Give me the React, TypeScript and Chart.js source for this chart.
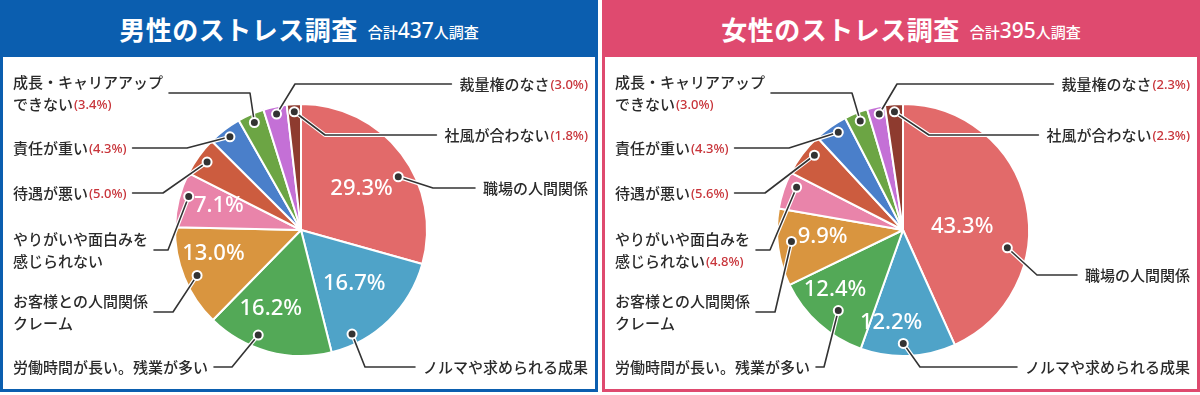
import React, { useEffect, useRef } from "react";
import { Chart, registerables } from "chart.js";

Chart.register(...registerables);

// ---------- data ----------
const categories = [
  "職場の人間関係",
  "ノルマや求められる成果",
  "労働時間が長い。残業が多い",
  "お客様との人間関係クレーム",
  "やりがいや面白みを感じられない",
  "待遇が悪い",
  "責任が重い",
  "成長・キャリアアップできない",
  "裁量権のなさ",
  "社風が合わない",
];
const labelLines = [
  ["職場の人間関係"],
  ["ノルマや求められる成果"],
  ["労働時間が長い。残業が多い"],
  ["お客様との人間関係", "クレーム"],
  ["やりがいや面白みを", "感じられない"],
  ["待遇が悪い"],
  ["責任が重い"],
  ["成長・キャリアアップ", "できない"],
  ["裁量権のなさ"],
  ["社風が合わない"],
];
const maleValues = [29.3, 16.7, 16.2, 13.0, 7.1, 5.0, 4.3, 3.4, 3.0, 1.8];
const femaleValues = [43.3, 12.2, 12.4, 9.9, 4.8, 5.6, 4.3, 3.0, 2.3, 2.3];
const maleTotal = 437;
const femaleTotal = 395;
const sliceColors = [
  "#E26A6A",
  "#4FA3C8",
  "#53A957",
  "#D9953F",
  "#E984AA",
  "#CC5C3F",
  "#4A7FCA",
  "#6CA544",
  "#C470D6",
  "#8E3B2F",
];
const INSIDE_MIN = 7;

// ---------- layout (panel coords) ----------
type Call = { side: "L" | "R"; y: number; ex: number; f: number; r: number };
const maleLayout: Call[] = [
  { side: "R", y: 188, ex: 433, f: 0.58, r: 0.88 },
  { side: "R", y: 367, ex: 365, f: 0.8, r: 0.92 },
  { side: "L", y: 367, ex: 232, f: 0.62, r: 0.9 },
  { side: "L", y: 312, ex: 173, f: 0.47, r: 0.9 },
  { side: "L", y: 250, ex: 168, f: 0.6, r: 0.93 },
  { side: "L", y: 193, ex: 163, f: 0.5, r: 0.92 },
  { side: "L", y: 148, ex: 187, f: 0.5, r: 0.93 },
  { side: "L", y: 93, ex: 250, f: 0.5, r: 0.93 },
  { side: "R", y: 84, ex: 295, f: 0.5, r: 0.94 },
  { side: "R", y: 135, ex: 325, f: 0.5, r: 0.94 },
];
const femaleLayout: Call[] = [
  { side: "R", y: 275, ex: 435, f: 0.64, r: 0.84 },
  { side: "R", y: 367, ex: 318, f: 0.55, r: 0.9 },
  { side: "L", y: 367, ex: 222, f: 0.43, r: 0.82 },
  { side: "L", y: 312, ex: 173, f: 0.56, r: 0.89 },
  { side: "L", y: 250, ex: 168, f: 0.7, r: 0.91 },
  { side: "L", y: 193, ex: 163, f: 0.65, r: 0.92 },
  { side: "L", y: 148, ex: 187, f: 0.6, r: 0.93 },
  { side: "L", y: 93, ex: 250, f: 0.55, r: 0.93 },
  { side: "R", y: 84, ex: 295, f: 0.6, r: 0.94 },
  { side: "R", y: 135, ex: 327, f: 0.5, r: 0.94 },
];
// inside percentage label placement: [angle fraction, radius fraction]
const malePctPos: Record<number, [number, number]> = {
  0: [0.53, 0.58],
  1: [0.49, 0.6],
  2: [0.6, 0.67],
  3: [0.65, 0.72],
  4: [0.6, 0.68],
};
const femalePctPos: Record<number, [number, number]> = {
  0: [0.56, 0.47],
  1: [0.72, 0.74],
  2: [0.65, 0.72],
  3: [0.6, 0.64],
};

const W = 598;
const H = 395;
const JP = '"Noto Sans CJK JP", "Noto Sans", sans-serif';

function makePlugin(values: number[], layout: Call[], pctPos: Record<number, [number, number]>) {
  return {
    id: "callouts",
    afterDatasetsDraw(chart: any) {
      const ctx = chart.ctx as CanvasRenderingContext2D;
      const meta = chart.getDatasetMeta(0);
      const arcs = meta.data;
      ctx.save();
      // inside percentages
      arcs.forEach((arc: any, i: number) => {
        if (values[i] < INSIDE_MIN) return;
        const p = arc.getProps(["x", "y", "startAngle", "endAngle", "outerRadius"], true);
        const pos = pctPos[i] || [0.5, 0.62];
        const a = p.startAngle + pos[0] * (p.endAngle - p.startAngle);
        const rr = p.outerRadius * pos[1];
        ctx.fillStyle = "#ffffff";
        ctx.font = `500 22px "Noto Sans", ${JP}`;
        ctx.textAlign = "center";
        ctx.textBaseline = "middle";
        ctx.fillText(values[i].toFixed(1) + "%", p.x + Math.cos(a) * rr, p.y + Math.sin(a) * rr);
      });
      // callouts
      arcs.forEach((arc: any, i: number) => {
        const L = layout[i];
        const p = arc.getProps(["x", "y", "startAngle", "endAngle", "outerRadius"], true);
        const a = p.startAngle + L.f * (p.endAngle - p.startAngle);
        const dx = p.x + Math.cos(a) * p.outerRadius * L.r;
        const dy = p.y + Math.sin(a) * p.outerRadius * L.r;
        const lines = labelLines[i];
        const showPct = values[i] < INSIDE_MIN;
        const pctText = "(" + values[i].toFixed(1) + "%)";
        ctx.font = `500 15px ${JP}`;
        const mainWidths = lines.map((s) => ctx.measureText(s).width);
        ctx.font = `500 13px "Noto Sans", ${JP}`;
        const pctW = showPct ? ctx.measureText(pctText).width + 1 : 0;
        const widths = mainWidths.map((w, k) => (k === lines.length - 1 ? w + pctW : w));
        const maxW = Math.max(...widths);
        const n = lines.length;
        const lineYs = lines.map((_, k) => L.y + (k - (n - 1) / 2) * 22);
        let textX: number;
        let lineStart: number;
        if (L.side === "L") {
          textX = 13;
          lineStart = textX + maxW + 6;
        } else {
          textX = 588 - maxW;
          lineStart = textX - 8;
        }
        // line with white halo
        const pts = [
          [lineStart, L.y],
          [L.ex, L.y],
          [dx, dy],
        ];
        ctx.lineJoin = "round";
        ctx.lineCap = "round";
        ctx.beginPath();
        pts.forEach((q, k) => (k ? ctx.lineTo(q[0], q[1]) : ctx.moveTo(q[0], q[1])));
        ctx.strokeStyle = "#ffffff";
        ctx.lineWidth = 4;
        ctx.stroke();
        ctx.beginPath();
        pts.forEach((q, k) => (k ? ctx.lineTo(q[0], q[1]) : ctx.moveTo(q[0], q[1])));
        ctx.strokeStyle = "#333333";
        ctx.lineWidth = 1.6;
        ctx.stroke();
        // dot
        ctx.beginPath();
        ctx.arc(dx, dy, 4.5, 0, Math.PI * 2);
        ctx.fillStyle = "#333333";
        ctx.fill();
        ctx.strokeStyle = "#ffffff";
        ctx.lineWidth = 2;
        ctx.stroke();
        // text
        ctx.textBaseline = "middle";
        ctx.textAlign = "left";
        lines.forEach((s, k) => {
          const x = L.side === "L" ? textX : 588 - widths[k];
          ctx.font = `500 15px ${JP}`;
          ctx.fillStyle = "#2a2a2a";
          ctx.fillText(s, x, lineYs[k]);
          if (showPct && k === n - 1) {
            ctx.font = `500 13px "Noto Sans", ${JP}`;
            ctx.fillStyle = "#C8343A";
            ctx.fillText(pctText, x + mainWidths[k] + 1, lineYs[k] + 1);
          }
        });
      });
      ctx.restore();
    },
  };
}

function Panel(props: {
  left: number;
  color: string;
  title: string;
  total: number;
  values: number[];
  layout: Call[];
  pctPos: Record<number, [number, number]>;
}) {
  const ref = useRef<HTMLCanvasElement | null>(null);
  useEffect(() => {
    if (!ref.current) return;
    const chart = new Chart(ref.current, {
      type: "pie",
      data: {
        labels: categories,
        datasets: [
          {
            data: props.values,
            backgroundColor: sliceColors,
            borderColor: "#ffffff",
            borderWidth: 2,
          },
        ],
      },
      options: {
        responsive: false,
        animation: false,
        layout: { padding: { left: 174, right: W - 174 - 254, top: 103, bottom: H - 103 - 254 } },
        plugins: { legend: { display: false }, tooltip: { enabled: false } },
      },
      plugins: [makePlugin(props.values, props.layout, props.pctPos)],
    });
    return () => chart.destroy();
  }, []);
  return (
    <div style={{ position: "absolute", left: props.left, top: 0, width: W, height: H }}>
      <div
        style={{
          position: "absolute",
          left: 0,
          top: 0,
          width: W,
          height: 392,
          background: props.color,
        }}
      />
      <div
        style={{
          position: "absolute",
          left: 3,
          top: 57,
          width: W - 6,
          height: 332,
          background: "#ffffff",
        }}
      />
      <div
        style={{
          position: "absolute",
          left: 0,
          top: 0,
          width: W,
          height: 57,
          display: "flex",
          alignItems: "center",
          justifyContent: "center",
          color: "#ffffff",
          fontFamily: JP,
          whiteSpace: "nowrap",
        }}
      >
        <span style={{ fontSize: 26, fontWeight: 700, letterSpacing: 0.5 }}>{props.title}</span>
        <span style={{ fontSize: 15, fontWeight: 500, marginLeft: 10, marginTop: 3 }}>
          合計<span style={{ fontSize: 21, fontFamily: '"Noto Sans", sans-serif' }}>{props.total}</span>人調査
        </span>
      </div>
      <canvas
        ref={ref}
        width={W}
        height={H}
        style={{ position: "absolute", left: 0, top: 0, width: W, height: H }}
      />
    </div>
  );
}

export default function App() {
  useEffect(() => {
    document.body.style.margin = "0";
    document.body.style.background = "#ffffff";
  }, []);
  return (
    <div style={{ position: "relative", width: 1200, height: 395, overflow: "hidden", background: "#fff" }}>
      <Panel
        left={0}
        color="#0B5EAF"
        title="男性のストレス調査"
        total={maleTotal}
        values={maleValues}
        layout={maleLayout}
        pctPos={malePctPos}
      />
      <Panel
        left={602}
        color="#DF4A6F"
        title="女性のストレス調査"
        total={femaleTotal}
        values={femaleValues}
        layout={femaleLayout}
        pctPos={femalePctPos}
      />
    </div>
  );
}
